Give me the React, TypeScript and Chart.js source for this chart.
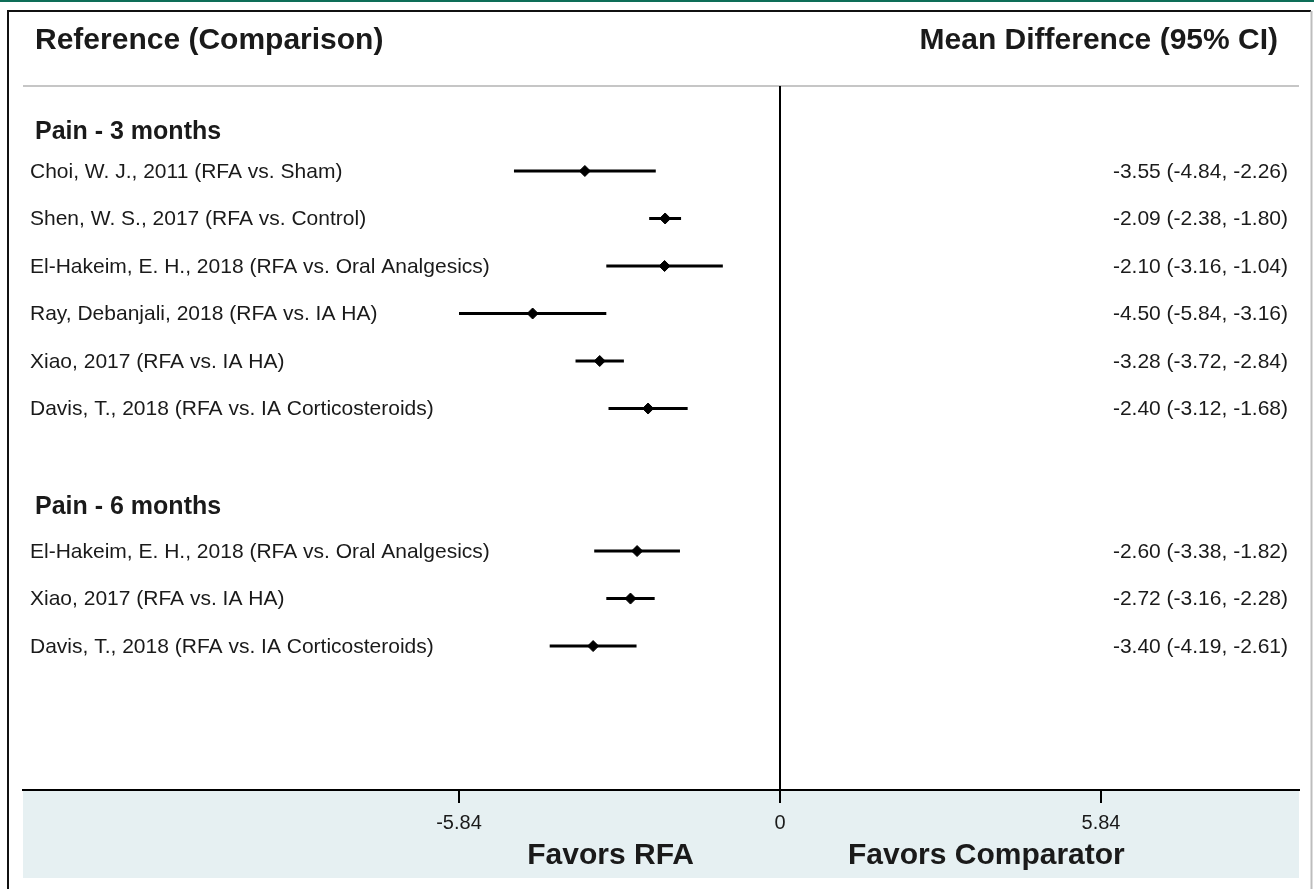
import React, { useEffect, useRef } from "react";
import { Chart, registerables } from "chart.js";

Chart.register(...registerables);

// ---- data ----
const groupTitles = ["Pain - 3 months", "Pain - 6 months"];
const groupTitleRows = [0.19, 8.07];

const studyLabels = [
  "Choi, W. J., 2011 (RFA vs. Sham)",
  "Shen, W. S., 2017 (RFA vs. Control)",
  "El-Hakeim, E. H., 2018 (RFA vs. Oral Analgesics)",
  "Ray, Debanjali, 2018 (RFA vs. IA HA)",
  "Xiao, 2017 (RFA vs. IA HA)",
  "Davis, T., 2018 (RFA vs. IA Corticosteroids)",
  "El-Hakeim, E. H., 2018 (RFA vs. Oral Analgesics)",
  "Xiao, 2017 (RFA vs. IA HA)",
  "Davis, T., 2018 (RFA vs. IA Corticosteroids)",
];
const studyRows = [1, 2, 3, 4, 5, 6, 9, 10, 11];
const meanDiff = [-3.55, -2.09, -2.1, -4.5, -3.28, -2.4, -2.6, -2.72, -3.4];
const ciLow = [-4.84, -2.38, -3.16, -5.84, -3.72, -3.12, -3.38, -3.16, -4.19];
const ciHigh = [-2.26, -1.8, -1.04, -3.16, -2.84, -1.68, -1.82, -2.28, -2.61];

const xTicks = [-5.84, 0, 5.84];
const xMin = -13.772;
const xMax = 9.442;
const yMin = -0.789;
const yMax = 14.03;

const FONT = '"Liberation Sans", Arial, Helvetica, sans-serif';

const overlayPlugin = {
  id: "forestOverlay",
  beforeDraw(chart: any) {
    const ctx = chart.ctx as CanvasRenderingContext2D;
    const { width, height } = chart;
    const area = chart.chartArea;
    ctx.save();
    ctx.fillStyle = "#ffffff";
    ctx.fillRect(0, 0, width, height);
    // teal top rule
    ctx.fillStyle = "#0e6e58";
    ctx.fillRect(0, 0, width, 2);
    // frame
    ctx.strokeStyle = "#111";
    ctx.lineWidth = 2;
    ctx.beginPath();
    ctx.moveTo(8, height);
    ctx.lineTo(8, 11);
    ctx.lineTo(1311, 11);
    ctx.stroke();
    ctx.strokeStyle = "#bdbdbd";
    ctx.beginPath();
    ctx.moveTo(1311.5, 11);
    ctx.lineTo(1311.5, height);
    ctx.stroke();
    // bottom band
    ctx.fillStyle = "#e6f0f2";
    ctx.fillRect(area.left, area.bottom, area.right - area.left, 88);
    // header divider
    ctx.strokeStyle = "#c6c6c6";
    ctx.lineWidth = 2;
    ctx.beginPath();
    ctx.moveTo(area.left, area.top);
    ctx.lineTo(area.right, area.top);
    ctx.stroke();
    ctx.restore();
  },
  afterDraw(chart: any) {
    const ctx = chart.ctx as CanvasRenderingContext2D;
    const yS = chart.scales.y;
    const xS = chart.scales.x;
    const area = chart.chartArea;
    ctx.save();
    ctx.fillStyle = "#1a1a1a";
    ctx.textBaseline = "middle";
    // headers
    ctx.font = `bold 30px ${FONT}`;
    ctx.textAlign = "left";
    ctx.fillText("Reference (Comparison)", 35, 41);
    ctx.textAlign = "right";
    ctx.fillText("Mean Difference (95% CI)", 1278, 41);
    // group titles
    ctx.font = `bold 25px ${FONT}`;
    ctx.textAlign = "left";
    groupTitles.forEach((t, i) => {
      ctx.fillText(t, 35, yS.getPixelForValue(groupTitleRows[i]));
    });
    // study labels and values
    ctx.font = `21px ${FONT}`;
    studyLabels.forEach((lab, i) => {
      const y = yS.getPixelForValue(studyRows[i]) + 1;
      ctx.textAlign = "left";
      ctx.fillText(lab, 30, y);
      ctx.textAlign = "right";
      const txt = `${meanDiff[i].toFixed(2)} (${ciLow[i].toFixed(2)}, ${ciHigh[i].toFixed(2)})`;
      ctx.fillText(txt, 1288, y);
    });
    // favors labels
    const zeroX = xS.getPixelForValue(0);
    ctx.font = `bold 30px ${FONT}`;
    ctx.textAlign = "right";
    ctx.fillText("Favors RFA", zeroX - 86, area.bottom + 66);
    ctx.textAlign = "left";
    ctx.fillText("Favors Comparator", zeroX + 68, area.bottom + 66);
    ctx.restore();
  },
};

export default function App() {
  const ref = useRef<HTMLCanvasElement | null>(null);

  useEffect(() => {
    document.body.style.margin = "0";
    const canvas = ref.current;
    if (!canvas) return;

    const ciSets = studyRows.map((row, i) => ({
      type: "scatter" as const,
      data: [
        { x: ciLow[i], y: row },
        { x: ciHigh[i], y: row },
      ],
      showLine: true,
      borderColor: "#000",
      borderWidth: 3,
      pointRadius: 0,
      order: 2,
    }));
    const pointSet = {
      type: "scatter" as const,
      data: studyRows.map((row, i) => ({ x: meanDiff[i], y: row })),
      pointStyle: "rectRot",
      pointRadius: 5.5,
      backgroundColor: "#000",
      borderColor: "#000",
      borderWidth: 1,
      order: 1,
    };

    const chart = new Chart(canvas, {
      type: "scatter",
      data: { datasets: [...ciSets, pointSet] as any },
      options: {
        responsive: false,
        animation: false,
        devicePixelRatio: 1,
        layout: { padding: { left: 23, right: 15, top: 86, bottom: 0 } },
        plugins: { legend: { display: false }, tooltip: { enabled: false } },
        scales: {
          x: {
            type: "linear",
            min: xMin,
            max: xMax,
            position: "bottom",
            afterBuildTicks: (s: any) => {
              s.ticks = xTicks.map((v) => ({ value: v }));
            },
            afterFit: (s: any) => {
              s.height = 99;
            },
            border: { display: true, color: "#000", width: 2 },
            grid: {
              drawOnChartArea: true,
              color: (c: any) => (c.tick && c.tick.value === 0 ? "#000" : "rgba(0,0,0,0)"),
              lineWidth: 2,
              tickColor: "#000",
              tickLength: 13,
              tickWidth: 2,
            },
            ticks: {
              autoSkip: false,
              maxRotation: 0,
              padding: 8,
              color: "#1a1a1a",
              font: { family: FONT, size: 20 },
              callback: (v: any) => (v === 0 ? "0" : Number(v).toFixed(2)),
            },
          },
          y: {
            type: "linear",
            min: yMin,
            max: yMax,
            reverse: true,
            display: false,
          },
        },
      },
      plugins: [overlayPlugin],
    });
    return () => chart.destroy();
  }, []);

  return (
    <div style={{ position: "fixed", left: 0, top: 0, width: 1314, height: 889 }}>
      <canvas ref={ref} width={1314} height={889} />
    </div>
  );
}
